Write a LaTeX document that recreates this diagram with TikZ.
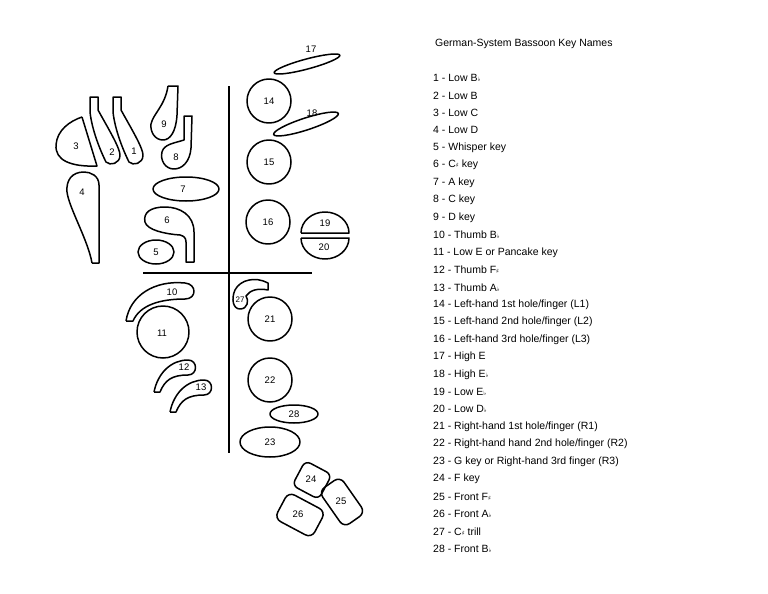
\documentclass[tikz,border=0pt]{standalone}
\usepackage{fontspec}
\setmainfont{Liberation Sans}
\newfontfamily\symf{DejaVu Sans}
\newcommand{\fl}{{\fontsize{6}{6}\symf ♭}}
\newcommand{\shp}{{\fontsize{6}{6}\symf ♯}}
\begin{document}
\begin{tikzpicture}[x=1pt,y=1pt,
  key/.style={draw=black,line width=1.5pt,line join=round},
  num/.style={font=\fontsize{9.5}{10}\selectfont},
  leg/.style={anchor=west,font=\fontsize{10.5}{12}\selectfont,inner sep=0pt},
  bar/.style={line width=1.4pt}]
\fill[white] (0,0) rectangle (768,-594);
\useasboundingbox (0,0) rectangle (768,-594);
% axes
\coordinate (vt) at (229,-86); \coordinate (vb) at (229,-453);
\coordinate (hl) at (143,-273); \coordinate (hr) at (312,-273);
\draw[bar] (vt) -- (vb); \draw[bar] (hl) -- (hr);
% 3
\draw[key] (82,-117) -- (97,-166) .. controls (70,-167) and (55,-160) .. (56,-145) .. controls (57,-130) and (70,-121) .. (82,-117);
\node[num] (n3) at (76,-146) {3};
% 2
\draw[key] (90,-97) -- (98,-97) -- (98,-110) .. controls (108,-128) and (120,-148) .. (120,-155) .. controls (120,-164) and (110,-166) .. (106,-162) .. controls (100,-150) and (92,-130) .. (90,-112) -- cycle;
\node[num] (n2) at (112,-152) {2};
% 1
\draw[key] (113,-97) -- (121,-97) -- (121,-110) .. controls (131,-128) and (143,-148) .. (143,-155) .. controls (143,-164) and (133,-166) .. (129,-162) .. controls (123,-150) and (115,-130) .. (113,-112) -- cycle;
\node[num] (n1) at (134,-151) {1};
% 9
\draw[key] (168,-86) -- (178,-86) -- (177,-115) .. controls (176,-132) and (170,-140) .. (163,-140) .. controls (155,-140) and (150,-132) .. (151,-124) .. controls (153,-114) and (165,-106) .. (168,-86);
\node[num] (n9) at (164,-124) {9};
% 8
\draw[key] (184,-116) -- (192,-116) -- (191,-148) .. controls (190,-162) and (182,-169) .. (174,-169) .. controls (165,-169) and (160,-160) .. (162,-152) .. controls (164,-144) and (175,-143) .. (184,-140) -- cycle;
\node[num] (n8) at (176,-157) {8};
% 7
\draw[key] (186,-189) ellipse[x radius=33,y radius=12];
\node[num] (n7) at (183,-189) {7};
% 4
\draw[key] (92,-263) -- (99,-263) -- (99,-185) .. controls (99,-176) and (91,-172) .. (84,-172) .. controls (72,-172) and (66,-180) .. (67,-192) .. controls (69,-208) and (88,-240) .. (92,-263);
\node[num] (n4) at (82,-192) {4};
% 6
\draw[key] (186,-262) -- (194,-262) -- (194,-232) .. controls (194,-215) and (180,-207) .. (165,-207) .. controls (150,-207) and (143,-213) .. (145,-222) .. controls (147,-230) and (165,-234) .. (180,-235) .. controls (184,-236) and (186,-238) .. (186,-242) -- cycle;
\node[num] (n6) at (167,-220) {6};
% 5
\draw[key] (156,-252) ellipse[x radius=18,y radius=12];
\node[num] (n5) at (156,-252) {5};
% 14 15 16
\draw[key] (269,-101) circle[radius=22]; \node[num] (n14) at (269,-101) {14};
\draw[key] (269,-162) circle[radius=22]; \node[num] (n15) at (269,-162) {15};
\draw[key] (268,-222) circle[radius=22]; \node[num] (n16) at (268,-222) {16};
% 17 18
\draw[key] (307,-64) ellipse[x radius=34,y radius=5,rotate=15]; \node[num] (n17) at (311,-49) {17};
\draw[key] (306,-124) ellipse[x radius=34,y radius=6,rotate=18]; \node[num] (n18) at (312,-113) {18};
% 19 20
\draw[key] (301,-233) -- (349,-233) arc[start angle=0,end angle=180,x radius=24,y radius=21];
\node[num] (n19) at (325,-223) {19};
\draw[key] (301,-238) -- (349,-238) arc[start angle=0,end angle=-180,x radius=24,y radius=21];
\node[num] (n20) at (324,-247) {20};
% 10
\draw[key] (126,-321) -- (133,-321) .. controls (140,-305) and (160,-299) .. (185,-299) .. controls (197,-299) and (197,-284) .. (185,-283) .. controls (155,-280) and (130,-295) .. (126,-321);
\node[num] (n10) at (172,-292) {10};
% 11
\draw[key] (163,-332) circle[radius=26]; \node[num] (n11) at (162,-333) {11};
% 12
\draw[key] (154,-392) -- (160,-392) .. controls (165,-380) and (172,-375) .. (188,-375) .. controls (198,-375) and (198,-360) .. (188,-360) .. controls (172,-360) and (158,-372) .. (154,-392);
\node[num] (n12) at (184,-367) {12};
% 13
\draw[key] (170,-412) -- (176,-412) .. controls (181,-400) and (188,-395) .. (204,-395) .. controls (214,-395) and (214,-380) .. (204,-380) .. controls (188,-380) and (174,-392) .. (170,-412);
\node[num] (n13) at (201,-387) {13};
% 27
\draw[key] (240,-309) .. controls (248,-309) and (249,-300) .. (246,-296) .. controls (250,-290) and (258,-288) .. (268,-290) -- (268,-283) .. controls (255,-276) and (240,-280) .. (235,-290) .. controls (231,-299) and (233,-309) .. (240,-309);
\node[num,font=\fontsize{8}{9}\selectfont] (n27) at (240,-300) {27};
% 21 22 28 23
\draw[key] (270,-319) circle[radius=22]; \node[num] (n21) at (270,-319) {21};
\draw[key] (270,-380) circle[radius=22]; \node[num] (n22) at (270,-380) {22};
\draw[key] (294,-414) ellipse[x radius=24,y radius=9]; \node[num] (n28) at (294,-414) {28};
\draw[key] (270,-442) ellipse[x radius=30,y radius=15]; \node[num] (n23) at (270,-442) {23};
% 24 25 26
\draw[key,rounded corners=6pt,rotate around={-28:(312,-480)}] (297,-494) rectangle (327,-466);
\node[num] (n24) at (311,-479) {24};
\draw[key,rounded corners=7pt,rotate around={-55:(342,-502)}] (320,-489) rectangle (364,-515);
\node[num] (n25) at (341,-501) {25};
\draw[key,rounded corners=7pt,rotate around={-28:(300,-515)}] (279,-500) rectangle (321,-530);
\node[num] (n26) at (298,-514) {26};
% legend
\node[leg] (title) at (435,-44) {German-System Bassoon Key Names};
\foreach \t [count=\i] in {
 {1 - Low B\fl},{2 - Low B},{3 - Low C},{4 - Low D},{5 - Whisper key},{6 - C\shp\ key},
 {7 - A key},{8 - C key},{9 - D key},{10 - Thumb B\fl},{11 - Low E or Pancake key},
 {12 - Thumb F\shp},{13 - Thumb A\fl},{14 - Left-hand 1st hole/finger (L1)},
 {15 - Left-hand 2nd hole/finger (L2)},{16 - Left-hand 3rd hole/finger (L3)},
 {17 - High E},{18 - High E\fl},{19 - Low E\fl},{20 - Low D\fl},
 {21 - Right-hand 1st hole/finger (R1)},{22 - Right-hand hand 2nd hole/finger (R2)},
 {23 - G key or Right-hand 3rd finger (R3)},{24 - F key},{25 - Front F\shp},
 {26 - Front A\fl},{27 - C\shp\ trill},{28 - Front B\fl}}
 \node[leg] (l\i) at (433,{-78-(\i-1)*17.44}) {\t};
\end{tikzpicture}
\end{document}
